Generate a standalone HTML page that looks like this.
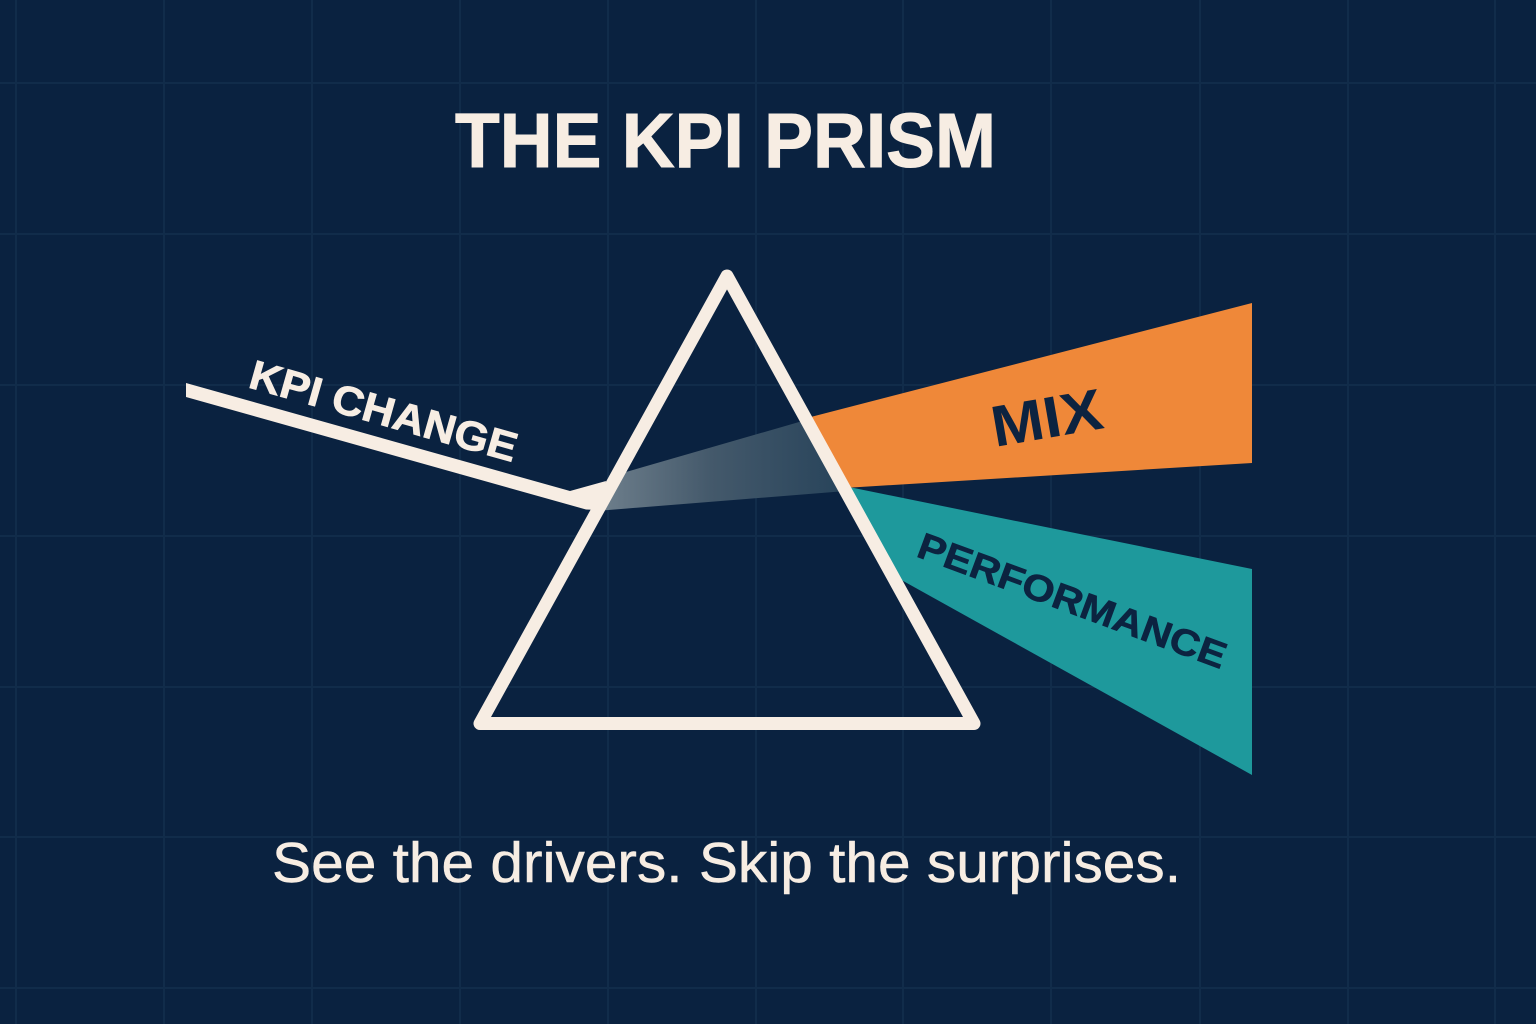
<!DOCTYPE html>
<html>
<head>
<meta charset="utf-8">
<style>
html,body{margin:0;padding:0;background:#0a2240;}
svg{display:block;}
</style>
</head>
<body>
<svg width="1536" height="1024" viewBox="0 0 1536 1024" xmlns="http://www.w3.org/2000/svg">
<defs>
<linearGradient id="beam" x1="600" y1="0" x2="846" y2="0" gradientUnits="userSpaceOnUse">
<stop offset="0" stop-color="#6e7f8c"/>
<stop offset="0.45" stop-color="#44596b"/>
<stop offset="1" stop-color="#27435a"/>
</linearGradient>
</defs>
<rect width="1536" height="1024" fill="#0a2240"/>
<g stroke="#112c4a" stroke-width="2">
<line x1="16" y1="0" x2="16" y2="1024"/>
<line x1="164" y1="0" x2="164" y2="1024"/>
<line x1="312" y1="0" x2="312" y2="1024"/>
<line x1="460" y1="0" x2="460" y2="1024"/>
<line x1="608" y1="0" x2="608" y2="1024"/>
<line x1="756" y1="0" x2="756" y2="1024"/>
<line x1="903" y1="0" x2="903" y2="1024"/>
<line x1="1051" y1="0" x2="1051" y2="1024"/>
<line x1="1200" y1="0" x2="1200" y2="1024"/>
<line x1="1348" y1="0" x2="1348" y2="1024"/>
<line x1="1495" y1="0" x2="1495" y2="1024"/>
<line x1="0" y1="83" x2="1536" y2="83"/>
<line x1="0" y1="234" x2="1536" y2="234"/>
<line x1="0" y1="385" x2="1536" y2="385"/>
<line x1="0" y1="536" x2="1536" y2="536"/>
<line x1="0" y1="687" x2="1536" y2="687"/>
<line x1="0" y1="837" x2="1536" y2="837"/>
<line x1="0" y1="988" x2="1536" y2="988"/>
</g>

<!-- Title -->
<text x="455" y="167" font-family="Liberation Sans, Arial, sans-serif" font-weight="bold" font-size="77" fill="#f7ede3" stroke="#f7ede3" stroke-width="1" textLength="541" lengthAdjust="spacingAndGlyphs">THE KPI PRISM</text>

<!-- beams -->
<polygon points="612,476 806,420 846,491 596,511" fill="url(#beam)"/>
<polygon points="803,419 1252,303 1252,463 844,488" fill="#ef8839"/>
<polygon points="844,486 1252,569 1252,775 896,577" fill="#1e999c"/>

<!-- incoming line -->
<polygon points="186,383 570,491 606,481 600,510 586,509.5 186,397" fill="#f7ede3"/>

<!-- prism -->
<polygon points="727,276 480,723.5 974,723.5" fill="none" stroke="#f7ede3" stroke-width="13" stroke-linejoin="round"/>

<!-- KPI CHANGE label -->
<text transform="translate(247,387) rotate(15.8)" font-family="Liberation Sans, Arial, sans-serif" font-weight="bold" font-size="41" fill="#f7ede3" stroke="#f7ede3" stroke-width="0.8" textLength="276" lengthAdjust="spacingAndGlyphs">KPI CHANGE</text>

<!-- MIX label -->
<text transform="translate(995,447) rotate(-9.8)" font-family="Liberation Sans, Arial, sans-serif" font-weight="bold" font-size="58" fill="#0c2340" textLength="112" lengthAdjust="spacingAndGlyphs">MIX</text>

<!-- PERFORMANCE label -->
<text transform="translate(915,556) rotate(20.3)" font-family="Liberation Sans, Arial, sans-serif" font-weight="bold" font-size="37" fill="#0c2340" stroke="#0c2340" stroke-width="0.6" textLength="326" lengthAdjust="spacingAndGlyphs">PERFORMANCE</text>

<!-- subtitle -->
<text x="272" y="882" font-family="Liberation Sans, Arial, sans-serif" font-size="57" fill="#f7ede3" stroke="#f7ede3" stroke-width="0.5" textLength="909" lengthAdjust="spacingAndGlyphs">See the drivers. Skip the surprises.</text>
</svg>
</body>
</html>
